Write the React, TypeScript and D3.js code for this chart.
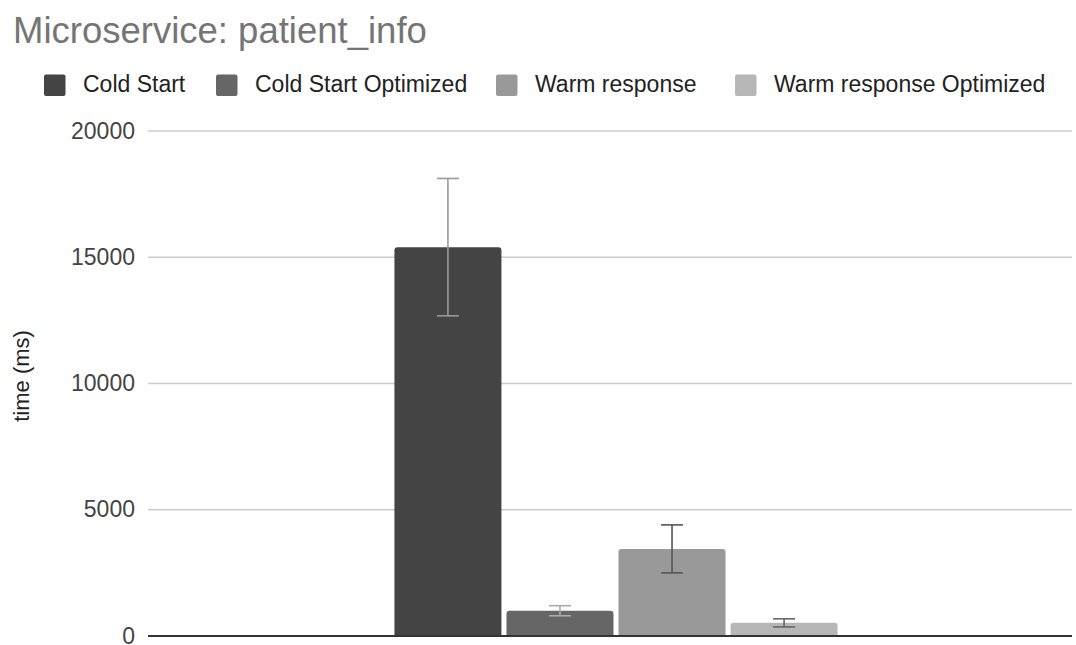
import React from "react";
import * as d3 from "d3";

const categories = ["patient_info"];
const seriesNames = ["Cold Start", "Cold Start Optimized", "Warm response", "Warm response Optimized"];
const seriesValues = [15400, 1000, 3450, 520];
const seriesErrors = [2720, 200, 950, 160];
const yTicks = [0, 5000, 10000, 15000, 20000];

const colors = ["#444444", "#666666", "#999999", "#b7b7b7"];
const errColors = ["#9a9a9a", "#aaaaaa", "#555555", "#666666"];
const legendSquareX = [44, 216, 496, 735];

const W = 1076;
const H = 645;
const FONT = "'Liberation Sans', Arial, sans-serif";

function roundedTopBar(x: number, y: number, w: number, h: number, r: number) {
  const rr = Math.min(r, h, w / 2);
  return `M${x},${y + h}V${y + rr}Q${x},${y} ${x + rr},${y}H${x + w - rr}Q${x + w},${y} ${x + w},${y + rr}V${y + h}Z`;
}

export default function App() {
  const y = d3.scaleLinear().domain([0, 20000]).range([636, 131]);
  const x0 = d3.scaleBand().domain(categories).range([160, 1072]).paddingInner(0).paddingOuter(0.529);
  const x1 = d3.scaleBand().domain(seriesNames).range([0, x0.bandwidth()]).paddingInner(0.045).paddingOuter(0);

  return (
    <svg width={W} height={H} style={{ position: "absolute", left: 0, top: 0, background: "#fff" }} fontFamily={FONT}>
      <rect width={W} height={H} fill="#fff" />
      <text x={13} y={43} fontSize={36.5} fill="#757575">Microservice: patient_info</text>

      {seriesNames.map((s, i) => (
        <g key={s}>
          <rect x={legendSquareX[i]} y={74.5} width={21.5} height={21.5} rx={2} fill={colors[i]} />
          <text x={legendSquareX[i] + 39} y={92} fontSize={23} fill="#222">{s}</text>
        </g>
      ))}

      {yTicks.map((t) => (
        <g key={t}>
          {t !== 0 && <line x1={148} x2={1072} y1={y(t)} y2={y(t)} stroke="#cccccc" strokeWidth={1.5} />}
          <text x={135} y={y(t)} dy="0.33em" textAnchor="end" fontSize={23} fill="#444">{t}</text>
        </g>
      ))}

      <text transform={`translate(29,${y(10300)}) rotate(-90)`} textAnchor="middle" fontSize={22} fill="#222">time (ms)</text>

      {categories.map((c) => (
        <g key={c} transform={`translate(${x0(c)},0)`}>
          {seriesNames.map((s, i) => {
            const bx = x1(s)!;
            const bw = x1.bandwidth();
            const top = y(seriesValues[i]);
            const cx = bx + bw / 2;
            const hi = y(seriesValues[i] + seriesErrors[i]);
            const lo = y(seriesValues[i] - seriesErrors[i]);
            return (
              <g key={s}>
                <path d={roundedTopBar(bx, top, bw, y(0) - top, 3)} fill={colors[i]} />
                <line x1={cx} x2={cx} y1={hi} y2={lo} stroke={errColors[i]} strokeWidth={1.6} />
                <line x1={cx - 11} x2={cx + 11} y1={hi} y2={hi} stroke={errColors[i]} strokeWidth={1.6} />
                <line x1={cx - 11} x2={cx + 11} y1={lo} y2={lo} stroke={errColors[i]} strokeWidth={1.6} />
              </g>
            );
          })}
        </g>
      ))}

      <line x1={148} x2={1072} y1={y(0)} y2={y(0)} stroke="#333333" strokeWidth={2} />
    </svg>
  );
}
